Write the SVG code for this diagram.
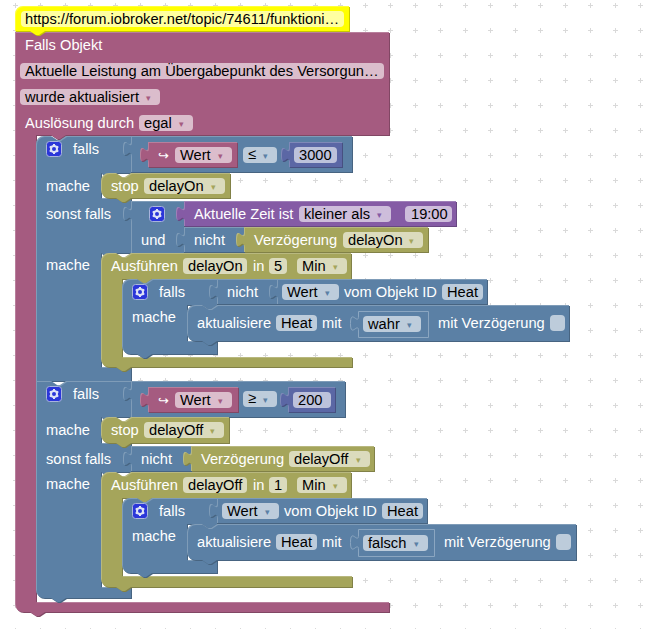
<svg xmlns="http://www.w3.org/2000/svg" width="651" height="629" viewBox="0 0 651 629">
<style>
text{font-family:"Liberation Sans",Arial,sans-serif;font-size:14.67px;fill:#fff}
text.f{fill:#000}
text.a{font-family:"DejaVu Sans",sans-serif;font-size:9px}
text.i{font-family:"DejaVu Sans",sans-serif;font-size:13px}
.b{filter:url(#bevel)}
.pk{fill:#a55b80}
.bl{fill:#5b80a5}
.gr{fill:#a5a55b}
.ma{fill:#5b67a5}
.ti{fill:#855ba5}
.ye{fill:#ffff00}
.sh{fill:#5b80a5;stroke:#8ba6c1;stroke-width:1}
.fd{fill:#fff;fill-opacity:.6}
.cb{fill:#fff;fill-opacity:.6}
.tp{fill:#a55b80}.tb{fill:#5b80a5}.tg{fill:#a5a55b}.tt{fill:#855ba5}
</style>
<defs>
<filter id="bevel" x="-5%" y="-5%" width="110%" height="110%" color-interpolation-filters="sRGB">
<feOffset in="SourceGraphic" dx="1" dy="1" result="o"/>
<feColorMatrix in="o" type="matrix" values=".78 0 0 0 0 0 .78 0 0 0 0 0 .78 0 0 0 0 0 1 0" result="dark"/>
<feComposite in="SourceAlpha" in2="o" operator="out" result="edge"/>
<feFlood flood-color="#fff" flood-opacity=".22"/>
<feComposite in2="edge" operator="in" result="light"/>
<feMerge><feMergeNode in="dark"/><feMergeNode in="SourceGraphic"/><feMergeNode in="light"/></feMerge>
</filter>
<pattern id="grid" x="0" y="0" width="25" height="25" patternUnits="userSpaceOnUse">
<rect x="13" y="5" width="5" height="1" fill="#d9d9d9"/><rect x="15" y="3" width="1" height="5" fill="#d9d9d9"/>
</pattern>
<g id="gear">
<rect x=".5" y=".5" width="15" height="15" rx="3" fill="#2b36d9" stroke="#a9b4dd"/>
<circle cx="8" cy="8" r="3" fill="none" stroke="#dfe3f7" stroke-width="2"/>
<path d="M8 3v2M8 11v2M3.7 5.500l1.700 1M10.600 9.500l1.700 1M3.700 10.500l1.700-1M10.600 6.500l1.700-1" stroke="#dfe3f7" stroke-width="2"/>
</g>
</defs>
<rect width="651" height="629" fill="#fff"/>
<rect width="651" height="629" fill="url(#grid)"/>

<g id="trigger">
<path class="b pk" d="M15,32H389V135H66l-6,4-3,0-6,-4H36V602H389V612H45l-6,4-3,0-6,-4H23a8,8 0 0 1 -8,-8Z"/>
<text x="25" y="50">Falls Objekt</text>
<rect class="fd" x="20" y="63" width="364" height="16" rx="4"/><text class="f" x="25" y="76">Aktuelle Leistung am Übergabepunkt des Versorgun…</text>
<rect class="fd" x="20" y="89" width="140" height="16" rx="4"/><text class="f" x="25" y="102">wurde aktualisiert</text><text class="a tp" x="146" y="101">▾</text>
<text x="25" y="128">Auslösung durch</text>
<rect class="fd" x="139" y="115" width="54" height="16" rx="4"/><text class="f" x="144" y="128">egal</text><text class="a tp" x="179" y="127">▾</text>
</g>

<g id="comment">
<path class="b ye" d="M15,14a8,8 0 0 1 8,-8H349V31H45l-6,4-3,0-6,-4H15Z"/>
<rect x="21" y="11" width="323" height="16" rx="4" fill="#ffffa0"/>
<text class="f" x="25" y="24">https://forum.iobroker.net/topic/74611/funktioni…</text>
</g>

<g id="if-on">
<path class="b bl" d="M36,144a8,8 0 0 1 8,-8H51l6,4 3,0 6,-4H131V173H116l-6,4-3,0-6,-4H101V198H131V253H116l-6,4-3,0-6,-4H101V367H131V381H36Z"/>
<use href="#gear" x="46" y="141"/>
<text x="73" y="154">falls</text><text x="46" y="191">mache</text><text x="46" y="219">sonst falls</text><text x="46" y="270">mache</text>
</g>
<g id="compare-on">
<path class="b bl" d="M131,136H352V172H131V156c0,-10 -8,8 -8,-7.500s8,2.500 8,-7.500Z"/>
<path class="b pk" d="M148,142H237V167H148V162c0,-10 -8,8 -8,-7.500s8,2.500 8,-7.500Z"/>
<text class="i" x="158" y="160">↪</text>
<rect class="fd" x="175" y="147" width="57" height="16" rx="4"/><text class="f" x="180" y="160">Wert</text><text class="a tp" x="218" y="159">▾</text>
<rect class="fd" x="243" y="147" width="34" height="16" rx="4"/><text class="f" x="248" y="159">≤</text><text class="a tb" x="263" y="159">▾</text>
<path class="b ma" d="M289,142H342V167H289V162c0,-10 -8,8 -8,-7.500s8,2.500 8,-7.500Z"/>
<rect class="fd" x="294" y="147" width="43" height="16" rx="4"/><text class="f" x="299" y="160">3000</text>
</g>
<g id="stop-on">
<path class="b gr" d="M101,181a8,8 0 0 1 8,-8H116l6,4 3,0 6,-4H230V198H131l-6,4-3,0-6,-4H109a8,8 0 0 1 -8,-8Z"/>
<text x="111" y="191">stop</text>
<rect class="fd" x="144" y="178" width="81" height="16" rx="4"/><text class="f" x="149" y="191">delayOn</text><text class="a tg" x="211" y="190">▾</text>
</g>
<g id="and-on">
<path class="b bl" d="M131,201H184V253H131V221c0,-10 -8,8 -8,-7.500s8,2.500 8,-7.500Z"/>
<use href="#gear" x="149" y="206"/>
<text x="141" y="245">und</text>
</g>
<g id="time-on">
<path class="b ti" d="M184,201H456V226H184V221c0,-10 -8,8 -8,-7.500s8,2.500 8,-7.500Z"/>
<text x="194" y="219">Aktuelle Zeit ist</text>
<rect class="fd" x="299" y="206" width="92" height="16" rx="4"/><text class="f" x="304" y="219">kleiner als</text><text class="a tt" x="377" y="218">▾</text>
<rect class="fd" x="405" y="206" width="47" height="16" rx="4"/><text class="f" x="411" y="219">19:00</text>
</g>
<g id="not-on">
<path class="b bl" d="M184,227H244V252H184V247c0,-10 -8,8 -8,-7.500s8,2.500 8,-7.500Z"/>
<text x="194" y="245">nicht</text>
<path class="b gr" d="M244,227H428V252H244V247c0,-10 -8,8 -8,-7.500s8,2.500 8,-7.500Z"/>
<text x="254" y="245">Verzögerung</text>
<rect class="fd" x="343" y="232" width="80" height="16" rx="4"/><text class="f" x="348" y="245">delayOn</text><text class="a tg" x="409" y="244">▾</text>
</g>
<g id="timeout-on">
<path class="b gr" d="M101,261a8,8 0 0 1 8,-8H116l6,4 3,0 6,-4H351V279H152l-6,4-3,0-6,-4H122V357H352V367H131l-6,4-3,0-6,-4H109a8,8 0 0 1 -8,-8Z"/>
<text x="111" y="271">Ausführen</text>
<rect class="fd" x="183" y="258" width="64" height="16" rx="4"/><text class="f" x="188" y="271">delayOn</text>
<text x="253" y="271">in</text>
<rect class="fd" x="269" y="258" width="18" height="16" rx="4"/><text class="f" x="274" y="271">5</text>
<rect class="fd" x="297" y="258" width="50" height="16" rx="4"/><text class="f" x="302" y="271">Min</text><text class="a tg" x="333" y="270">▾</text>
</g>
<g id="if-heat-on">
<path class="b bl" d="M122,287a8,8 0 0 1 8,-8H137l6,4 3,0 6,-4H217V305l-6,4-3,0-6,-4H187V341H217V354H152l-6,4-3,0-6,-4H130a8,8 0 0 1 -8,-8Z"/>
<use href="#gear" x="132" y="284"/>
<text x="159" y="297">falls</text><text x="132" y="322">mache</text>
<path class="b bl" d="M217,279H277V304H217V299c0,-10 -8,8 -8,-7.500s8,2.500 8,-7.500Z"/>
<text x="227" y="297">nicht</text>
<path class="b bl" d="M277,279H487V304H277V299c0,-10 -8,8 -8,-7.500s8,2.500 8,-7.500Z"/>
<rect class="fd" x="282" y="284" width="57" height="16" rx="4"/><text class="f" x="287" y="297">Wert</text><text class="a tb" x="325" y="296">▾</text>
<text x="344" y="297">vom Objekt ID</text>
<rect class="fd" x="442" y="284" width="41" height="16" rx="4"/><text class="f" x="447" y="297">Heat</text>
</g>
<g id="update-on">
<path class="b bl" d="M187,313a8,8 0 0 1 8,-8H202l6,4 3,0 6,-4H569V341H217l-6,4-3,0-6,-4H195a8,8 0 0 1 -8,-8Z"/>
<text x="197" y="328">aktualisiere</text>
<rect class="fd" x="276" y="315" width="41" height="16" rx="4"/><text class="f" x="281" y="328">Heat</text>
<text x="322" y="328">mit</text>
<path class="sh" d="M358.500,311.500H428.500V337.500H358.500V331c0,-10 -8,8 -8,-7.500s8,2.500 8,-7.500Z"/>
<rect class="fd" x="363" y="316" width="58" height="16" rx="4"/><text class="f" x="368" y="329">wahr</text><text class="a tb" x="407" y="328">▾</text>
<text x="438" y="328">mit Verzögerung</text>
<rect class="cb" x="550" y="315" width="15" height="16" rx="4"/>
</g>

<g id="if-off">
<path class="b bl" d="M36,381H51l6,4 3,0 6,-4H131V417H116l-6,4-3,0-6,-4H101V443H131V472H116l-6,4-3,0-6,-4H101V587H131V598H66l-6,4-3,0-6,-4H44a8,8 0 0 1 -8,-8Z"/>
<use href="#gear" x="46" y="386"/>
<text x="73" y="399">falls</text><text x="46" y="435">mache</text><text x="46" y="464">sonst falls</text><text x="46" y="489">mache</text>
</g>
<g id="compare-off">
<path class="b bl" d="M131,381H345V417H131V401c0,-10 -8,8 -8,-7.500s8,2.500 8,-7.500Z"/>
<path class="b pk" d="M148,387H238V412H148V407c0,-10 -8,8 -8,-7.500s8,2.500 8,-7.500Z"/>
<text class="i" x="158" y="405">↪</text>
<rect class="fd" x="175" y="392" width="57" height="16" rx="4"/><text class="f" x="180" y="405">Wert</text><text class="a tp" x="218" y="404">▾</text>
<rect class="fd" x="243" y="391" width="34" height="16" rx="4"/><text class="f" x="248" y="403">≥</text><text class="a tb" x="263" y="403">▾</text>
<path class="b ma" d="M288,387H335V412H288V407c0,-10 -8,8 -8,-7.500s8,2.500 8,-7.500Z"/>
<rect class="fd" x="293" y="392" width="38" height="16" rx="4"/><text class="f" x="298" y="405">200</text>
</g>
<g id="stop-off">
<path class="b gr" d="M101,425a8,8 0 0 1 8,-8H116l6,4 3,0 6,-4H229V443H131l-6,4-3,0-6,-4H109a8,8 0 0 1 -8,-8Z"/>
<text x="111" y="435">stop</text>
<rect class="fd" x="144" y="422" width="80" height="16" rx="4"/><text class="f" x="149" y="435">delayOff</text><text class="a tg" x="210" y="434">▾</text>
</g>
<g id="not-off">
<path class="b bl" d="M131,446H191V471H131V466c0,-10 -8,8 -8,-7.500s8,2.500 8,-7.500Z"/>
<text x="141" y="464">nicht</text>
<path class="b gr" d="M191,446H374V471H191V466c0,-10 -8,8 -8,-7.500s8,2.500 8,-7.500Z"/>
<text x="201" y="464">Verzögerung</text>
<rect class="fd" x="289" y="451" width="81" height="16" rx="4"/><text class="f" x="294" y="464">delayOff</text><text class="a tg" x="356" y="463">▾</text>
</g>
<g id="timeout-off">
<path class="b gr" d="M101,480a8,8 0 0 1 8,-8H116l6,4 3,0 6,-4H351V498H152l-6,4-3,0-6,-4H122V576H352V587H131l-6,4-3,0-6,-4H109a8,8 0 0 1 -8,-8Z"/>
<text x="111" y="490">Ausführen</text>
<rect class="fd" x="183" y="477" width="64" height="16" rx="4"/><text class="f" x="188" y="490">delayOff</text>
<text x="253" y="490">in</text>
<rect class="fd" x="269" y="477" width="18" height="16" rx="4"/><text class="f" x="274" y="490">1</text>
<rect class="fd" x="297" y="477" width="50" height="16" rx="4"/><text class="f" x="302" y="490">Min</text><text class="a tg" x="333" y="489">▾</text>
</g>
<g id="if-heat-off">
<path class="b bl" d="M122,506a8,8 0 0 1 8,-8H137l6,4 3,0 6,-4H217V524l-6,4-3,0-6,-4H187V560H217V573H152l-6,4-3,0-6,-4H130a8,8 0 0 1 -8,-8Z"/>
<use href="#gear" x="132" y="503"/>
<text x="159" y="516">falls</text><text x="132" y="541">mache</text>
<path class="b bl" d="M217,498H427V523H217V518c0,-10 -8,8 -8,-7.500s8,2.500 8,-7.500Z"/>
<rect class="fd" x="222" y="503" width="57" height="16" rx="4"/><text class="f" x="227" y="516">Wert</text><text class="a tb" x="265" y="515">▾</text>
<text x="284" y="516">vom Objekt ID</text>
<rect class="fd" x="382" y="503" width="41" height="16" rx="4"/><text class="f" x="387" y="516">Heat</text>
</g>
<g id="update-off">
<path class="b bl" d="M187,532a8,8 0 0 1 8,-8H202l6,4 3,0 6,-4H576V560H217l-6,4-3,0-6,-4H195a8,8 0 0 1 -8,-8Z"/>
<text x="197" y="547">aktualisiere</text>
<rect class="fd" x="276" y="534" width="41" height="16" rx="4"/><text class="f" x="281" y="547">Heat</text>
<text x="322" y="547">mit</text>
<path class="sh" d="M358.500,529.500H434.500V556.500H358.500V550c0,-10 -8,8 -8,-7.500s8,2.500 8,-7.500Z"/>
<rect class="fd" x="363" y="535" width="65" height="16" rx="4"/><text class="f" x="368" y="548">falsch</text><text class="a tb" x="414" y="547">▾</text>
<text x="444" y="547">mit Verzögerung</text>
<rect class="cb" x="556" y="534" width="15" height="16" rx="4"/>
</g>
</svg>
